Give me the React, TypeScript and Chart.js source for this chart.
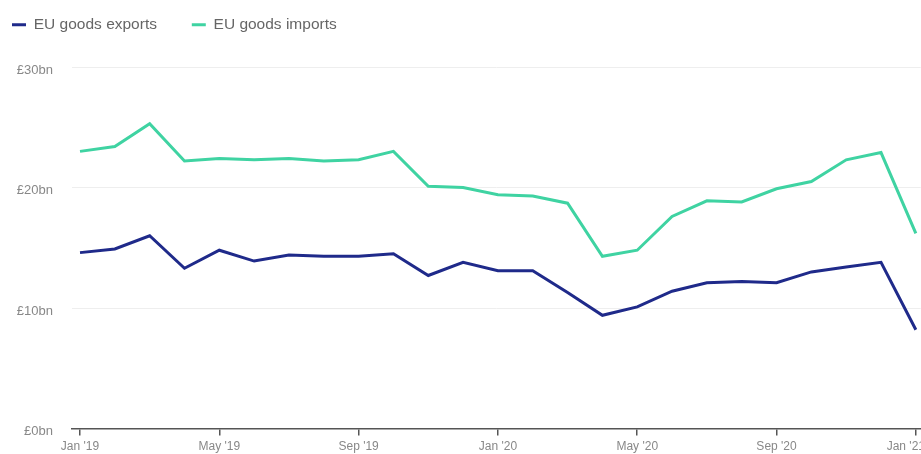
import React, { useEffect, useRef } from "react";
import { Chart, registerables } from "chart.js";

Chart.register(...registerables);

const months = [
  "Jan '19", "Feb '19", "Mar '19", "Apr '19", "May '19", "Jun '19", "Jul '19", "Aug '19", "Sep '19", "Oct '19", "Nov '19", "Dec '19",
  "Jan '20", "Feb '20", "Mar '20", "Apr '20", "May '20", "Jun '20", "Jul '20", "Aug '20", "Sep '20", "Oct '20", "Nov '20", "Dec '20",
  "Jan '21",
];

const exportsBn = [
  14.6, 14.9, 16.0, 13.3, 14.8, 13.9, 14.4, 14.3, 14.3, 14.5, 12.7, 13.8,
  13.1, 13.1, 11.3, 9.4, 10.1, 11.4, 12.1, 12.2, 12.1, 13.0, 13.4, 13.8,
  8.2,
];

const importsBn = [
  23.0, 23.4, 25.3, 22.2, 22.4, 22.3, 22.4, 22.2, 22.3, 23.0, 20.1, 20.0,
  19.4, 19.3, 18.7, 14.3, 14.8, 17.6, 18.9, 18.8, 19.9, 20.5, 22.3, 22.9,
  16.2,
];

const tickMonths = [0, 4, 8, 12, 16, 20, 24];
const yTicks = [0, 10, 20, 30];

const seriesNames = ["EU goods exports", "EU goods imports"];
const seriesColors = ["#1f2a8a", "#3fd3a2"];

export default function App() {
  const ref = useRef<HTMLCanvasElement | null>(null);

  useEffect(() => {
    if (!ref.current) return;
    const toPts = (arr: number[]) => arr.map((v, i) => ({ x: i, y: v }));
    const legendSpacer = {
      id: "legendSpacer",
      beforeInit(chart: any) {
        const orig = chart.legend.fit;
        chart.legend.fit = function () {
          orig.bind(chart.legend)();
          this.height = 59;
        };
      },
    };
    const chart = new Chart(ref.current, {
      type: "line",
      data: {
        datasets: [
          {
            label: seriesNames[0],
            data: toPts(exportsBn),
            borderColor: seriesColors[0],
            backgroundColor: seriesColors[0],
            borderWidth: 3,
            pointRadius: 0,
            tension: 0,
          },
          {
            label: seriesNames[1],
            data: toPts(importsBn),
            borderColor: seriesColors[1],
            backgroundColor: seriesColors[1],
            borderWidth: 3,
            pointRadius: 0,
            tension: 0,
          },
        ],
      },
      options: {
        animation: false,
        responsive: false,
        maintainAspectRatio: false,
        layout: { padding: { left: 3, top: 8, right: 0, bottom: 0 } },
        plugins: {
          tooltip: { enabled: false },
          legend: {
            position: "top",
            align: "start",
            labels: {
              boxWidth: 14,
              boxHeight: 3,
              padding: 9,
              color: "#666",
              font: { family: "Liberation Sans", size: 15.5 },
              generateLabels: (c: any) =>
                c.data.datasets.map((ds: any, i: number) => ({
                  text: ds.label + (i === 0 ? "      " : ""),
                  fillStyle: ds.borderColor,
                  strokeStyle: ds.borderColor,
                  lineWidth: 0,
                  fontColor: "#666",
                  hidden: false,
                  datasetIndex: i,
                })),
            },
          },
        },
        scales: {
          x: {
            type: "linear",
            min: -0.23,
            max: 24.14,
            afterBuildTicks: (scale: any) => {
              scale.ticks = tickMonths.map((v) => ({ value: v }));
            },
            ticks: {
              autoSkip: false,
              maxRotation: 0,
              color: "#888",
              padding: 4,
              font: { family: "Liberation Sans", size: 12 },
              callback: (v: any) => {
                const i = Math.round(Number(v));
                return i === 24 ? months[i] + "      " : months[i] ?? "";
              },
            },
            grid: {
              drawOnChartArea: false,
              drawTicks: true,
              tickLength: 7,
              color: "#555",
              lineWidth: 1.5,
            },
            border: { display: true, color: "#555", width: 1.5 },
          },
          y: {
            min: 0,
            max: 30,
            afterBuildTicks: (scale: any) => {
              scale.ticks = yTicks.map((v) => ({ value: v }));
            },
            afterFit: (scale: any) => {
              scale.width = 69;
            },
            ticks: {
              color: "#888",
              padding: 19,
              labelOffset: 3,
              font: { family: "Liberation Sans", size: 13 },
              callback: (v: any) => "£" + v + "bn",
            },
            grid: { color: "#eeeeee", drawTicks: false, lineWidth: 1 },
            border: { display: false },
          },
        },
      },
      plugins: [legendSpacer],
    } as any);
    return () => chart.destroy();
  }, []);

  return (
    <div style={{ position: "absolute", left: 0, top: 0, width: 921, height: 454, overflow: "hidden", background: "#fff" }}>
      <canvas ref={ref} width={949} height={458} style={{ display: "block" }} />
    </div>
  );
}
